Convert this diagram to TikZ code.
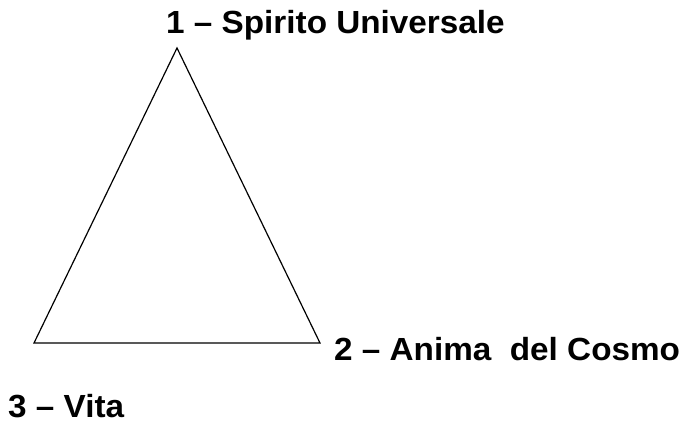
\documentclass[tikz,border=0pt]{standalone}
\usepackage{fontspec}
\setmainfont{Liberation Sans}
\usepackage{tikz}

\begin{document}
\begin{tikzpicture}[x=1pt, y=-1pt, every node/.style={font=\fontsize{32}{36}\selectfont\bfseries, inner sep=0pt, xscale=1.04}]
  \useasboundingbox (0,0) rectangle (682,428);
  \coordinate (top) at (177,48);
  \coordinate (left) at (34,343);
  \coordinate (right) at (320,343);
  \draw[line width=1.2pt, line join=miter] (top) -- (right) -- (left) -- cycle;
  \node[anchor=base west] (spirito) at (166,34) {1 -- Spirito Universale};
  \node[anchor=base west] (anima) at (334,360) {2 -- Anima\ \ del Cosmo};
  \node[anchor=base west] (vita) at (8,417) {3 -- Vita};
\end{tikzpicture}
\end{document}
